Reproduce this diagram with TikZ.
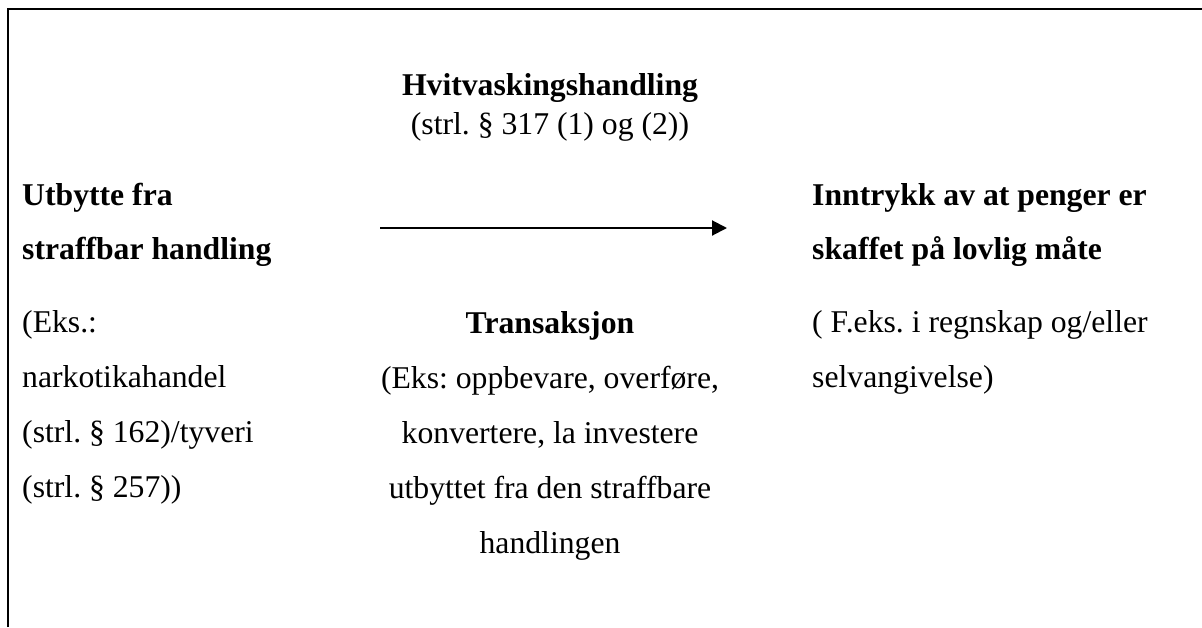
\documentclass[tikz,border=0pt]{standalone}
\usepackage{fontspec}
\setmainfont{Liberation Serif}
\usetikzlibrary{arrows.meta}
\frenchspacing
\begin{document}
\begin{tikzpicture}[x=1pt,y=1pt,
  frame/.style={line width=1.7pt, line join=miter},
  flow/.style={line width=2pt, -{Triangle[length=15pt,width=15pt]}},
  head/.style={inner sep=0pt, font=\bfseries\fontsize{31.7}{54}\selectfont},
  body/.style={inner sep=0pt, font=\fontsize{31.7}{55}\selectfont},
  leftcol/.style={anchor=base west},
  midcol/.style={anchor=base}]
  \path[use as bounding box] (0,0) rectangle (1202,-627);
  % open frame: top and left edges
  \draw[frame] (8,-627) -- (8,-9) -- (1202,-9);

  % source of the proceeds
  \node[head, leftcol] (src) at (22,-205)
    {\begin{tabular}[t]{@{}l@{}}Utbytte fra\\ straffbar handling\end{tabular}};
  \node[body, leftcol] (srcnote) at (22,-332)
    {\begin{tabular}[t]{@{}l@{}}(Eks.:\\ narkotikahandel\\ (strl. § 162)/tyveri\\ (strl. § 257))\end{tabular}};

  % the laundering act
  \node[head, midcol] (act) at (550,-95) {Hvitvaskingshandling};
  \node[body, midcol] (actref) at (550,-134) {(strl. § 317 (1) og (2))};
  \node[body, midcol] (tx) at (550,-333)
    {\begin{tabular}[t]{@{}c@{}}\textbf{Transaksjon}\\ (Eks: oppbevare, overføre,\\ konvertere, la investere\\ utbyttet fra den straffbare\\ handlingen\end{tabular}};

  % resulting impression
  \node[head, leftcol] (dst) at (812,-205)
    {\begin{tabular}[t]{@{}l@{}}Inntrykk av at penger er\\ skaffet på lovlig måte\end{tabular}};
  \node[body, leftcol] (dstnote) at (812,-332)
    {\begin{tabular}[t]{@{}l@{}}( F.eks. i regnskap og/eller\\ selvangivelse)\end{tabular}};

  % flow arrow
  \coordinate (flowstart) at (380,-228);
  \coordinate (flowend) at (727,-228);
  \draw[flow] (flowstart) -- (flowend);
\end{tikzpicture}
\end{document}
